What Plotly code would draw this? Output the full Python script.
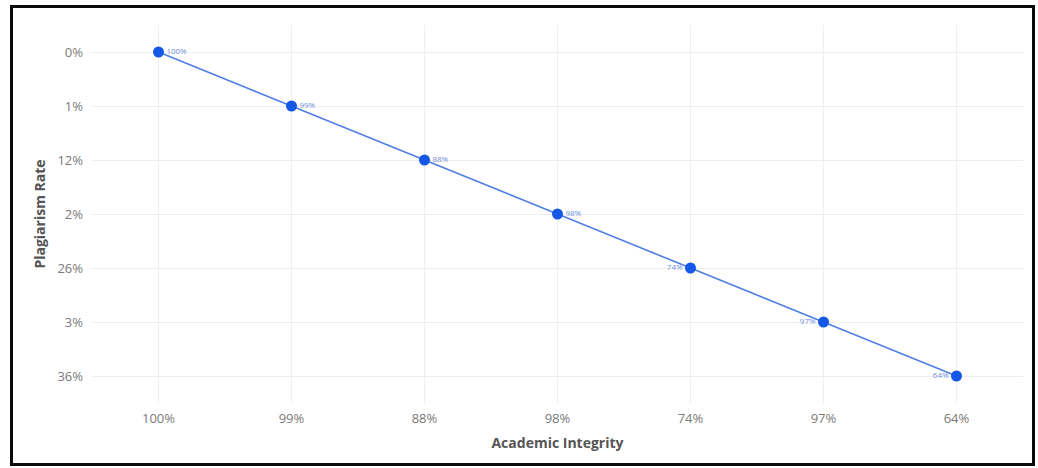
import plotly.graph_objects as go

# Academic integrity score vs. plagiarism rate per sample
academic_integrity = ["100%", "99%", "88%", "98%", "74%", "97%", "64%"]
plagiarism_rate = ["0%", "1%", "12%", "2%", "26%", "3%", "36%"]
point_labels = ["100%", "99%", "88%", "98%", "74%", "97%", "64%"]
label_positions = ["middle right"] * 4 + ["middle left"] * 3

W, H = 1038, 468
L, R, T, B = 92, 15, 25, 65

fig = go.Figure(
    go.Scatter(
        x=academic_integrity,
        y=plagiarism_rate,
        mode="lines+markers+text",
        text=point_labels,
        textposition=label_positions,
        textfont=dict(family="Open Sans", size=8, color="#6f8fdc"),
        line=dict(color="#4f7fe3", width=1.6),
        marker=dict(color="#1557e6", size=11),
        cliponaxis=False,
        hoverinfo="x+y",
    )
)

pw, ph = W - L - R, H - T - B


def px_x(p):
    return (p - L) / pw


def px_y(p):
    return (H - B - p) / ph


# outer frame around the whole chart
fig.add_shape(
    type="rect", xref="paper", yref="paper",
    x0=px_x(11.5), x1=px_x(1033.5), y0=px_y(464.5), y1=px_y(6.5),
    line=dict(color="#0a0a0a", width=3), fillcolor="rgba(0,0,0,0)",
    layer="above",
)

n_x, n_y = len(academic_integrity), len(plagiarism_rate)

fig.update_layout(
    width=W, height=H,
    margin=dict(l=L, r=R, t=T, b=B),
    paper_bgcolor="white", plot_bgcolor="white",
    showlegend=False,
    font=dict(family="Open Sans", color="#777777"),
    xaxis=dict(
        type="category",
        categoryorder="array", categoryarray=academic_integrity,
        range=[-0.5, n_x - 0.5],
        showgrid=True, gridcolor="#eeeeee", gridwidth=1,
        zeroline=False, showline=False,
        tickfont=dict(size=13, color="#7a7a7a"),
        ticks="", ticklabelstandoff=6,
        title=dict(text="<b>Academic Integrity</b>", font=dict(size=14, color="#555555"), standoff=12),
    ),
    yaxis=dict(
        type="category",
        categoryorder="array", categoryarray=plagiarism_rate,
        range=[n_y - 0.5, -0.5],
        showgrid=True, gridcolor="#eeeeee", gridwidth=1,
        zeroline=False, showline=False,
        tickfont=dict(size=13, color="#7a7a7a"),
        ticks="", ticklabelstandoff=8,
        title=dict(text="<b>Plagiarism Rate</b>", font=dict(size=14, color="#555555"), standoff=8),
    ),
)

fig.write_html("out.html")
